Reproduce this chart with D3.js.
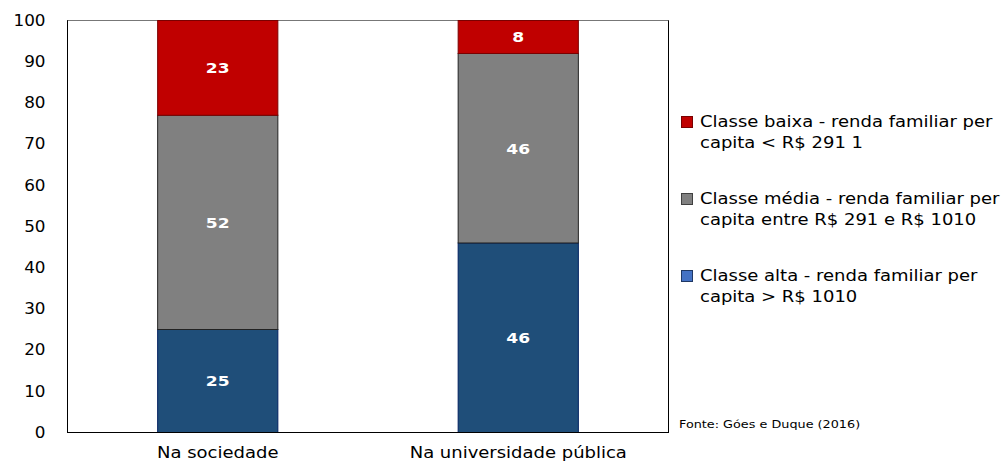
<!DOCTYPE html>
<html><head><meta charset="utf-8">
<script src="https://cdn.jsdelivr.net/npm/d3@7"></script>
<style>body{margin:0;background:#fff}svg{display:block}</style>
</head><body>
<svg id="c" width="1005" height="461"></svg>
<script>
const categories = ["Na sociedade", "Na universidade pública"];
const seriesNames = ["Classe alta - renda familiar per|capita > R$ 1010", "Classe média - renda familiar per|capita entre R$ 291 e R$ 1010", "Classe baixa - renda familiar per|capita < R$ 291 1"];
const alta = [25, 46];
const media = [52, 46];
const baixa = [23, 8];
const yTicks = [0, 10, 20, 30, 40, 50, 60, 70, 80, 90, 100];
const source = "Fonte: Góes e Duque (2016)";

const fills = ["#1F4E79", "#808080", "#C00000"];
const strokes = ["#002060", "#222222", "#7a0000"];
const legendFills = ["#4472C4", "#808080", "#C00000"];
const legendStrokes = ["#1F3864", "#404040", "#7a0000"];
const FONT = "DejaVu Sans";

function stretch(sel, k) {
  sel.each(function() {
    const t = d3.select(this);
    const x = +(t.attr("x") || 0);
    t.attr("transform", `translate(${x * (1 - k)},0) scale(${k},1)`);
  });
}

const svg = d3.select("#c");
const m = {l: 67.5, r: 668.5, t: 20.5, b: 432.5};
const x = d3.scaleBand().domain(categories).range([m.l, m.r]).paddingInner(0.6).paddingOuter(0.3);
const y = d3.scaleLinear().domain([0, 100]).range([m.b, m.t]);

const rows = categories.map((c, i) => ({cat: c, alta: alta[i], media: media[i], baixa: baixa[i]}));
const stack = d3.stack().keys(["alta", "media", "baixa"])(rows);

// frame
svg.append("rect").attr("x", m.l).attr("y", m.t).attr("width", m.r - m.l).attr("height", m.b - m.t)
  .attr("fill", "#fff").attr("stroke", "#000").attr("stroke-width", 1);
svg.append("line").attr("x1", m.l).attr("x2", m.r).attr("y1", m.t).attr("y2", m.t).attr("stroke", "#777");

stack.forEach((s, si) => {
  const g = svg.append("g");
  g.selectAll("rect").data(s).join("rect")
    .attr("x", d => x(d.data.cat))
    .attr("width", x.bandwidth())
    .attr("y", d => y(d[1]))
    .attr("height", d => y(d[0]) - y(d[1]))
    .attr("fill", fills[si]).attr("stroke", strokes[si]).attr("stroke-width", 1);
  const tx = g.selectAll("text").data(s).join("text")
    .attr("x", d => x(d.data.cat) + x.bandwidth() / 2)
    .attr("y", d => (y(d[0]) + y(d[1])) / 2 + 5.5)
    .attr("text-anchor", "middle").attr("fill", "#fff")
    .attr("font-family", FONT).attr("font-weight", "bold").attr("font-size", 14.5)
    .text(d => d[1] - d[0]);
  stretch(tx, 1.18);
});

// redraw frame lines on top
svg.append("line").attr("x1", m.l).attr("x2", m.r).attr("y1", m.b).attr("y2", m.b).attr("stroke", "#000");
svg.append("line").attr("x1", m.l).attr("x2", m.l).attr("y1", m.t).attr("y2", m.b).attr("stroke", "#000");

// y axis
const ya = svg.append("g").attr("transform", `translate(${m.l},0)`)
  .call(d3.axisLeft(y).tickValues(yTicks).tickSize(0).tickPadding(22));
ya.select(".domain").remove();
ya.selectAll("text").attr("font-family", FONT).attr("font-size", 15).attr("fill", "#000");
stretch(ya.selectAll("text"), 1.12);

// x axis
const xa = svg.append("g").attr("transform", `translate(0,${m.b})`)
  .call(d3.axisBottom(x).tickSize(0).tickPadding(15));
xa.select(".domain").remove();
xa.selectAll("text").attr("font-family", FONT).attr("font-size", 15).attr("fill", "#000");
stretch(xa.selectAll("text"), 1.2);

// legend (reverse order: baixa top)
const legOrder = [2, 1, 0];
const lg = svg.append("g");
legOrder.forEach((si, k) => {
  const y0 = 116 + k * 77;
  lg.append("rect").attr("x", 681.5).attr("y", y0 + 0.5).attr("width", 11).attr("height", 11)
    .attr("fill", legendFills[si]).attr("stroke", legendStrokes[si]).attr("stroke-width", 1);
  const lines = seriesNames[si].split("|");
  lines.forEach((t, li) => {
    const tt = lg.append("text").attr("x", 700).attr("y", y0 + 11 + li * 21.5)
      .attr("font-family", FONT).attr("font-size", 15).attr("fill", "#000").text(t);
    stretch(tt, 1.2);
  });
});

const st = svg.append("text").attr("x", 679).attr("y", 428).attr("font-family", FONT).attr("font-size", 10.5)
  .attr("fill", "#000").text(source);
stretch(st, 1.22);
</script>
</body></html>
